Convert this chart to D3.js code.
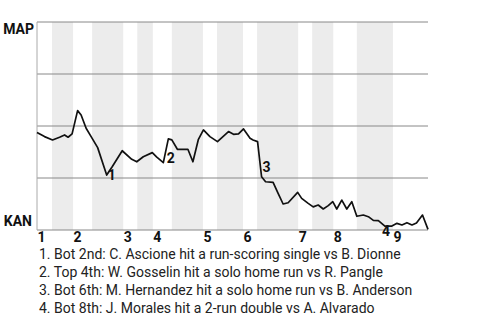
<!DOCTYPE html>
<html>
<head>
<meta charset="utf-8">
<script src="https://cdn.jsdelivr.net/npm/d3@7"></script>
<style>
  body { margin: 0; background: #fff; }
  text { font-family: Roboto, "Liberation Sans", sans-serif; }
</style>
</head>
<body>
<svg id="chart" width="480" height="320"></svg>
<script>
// game progress (plate appearances) and MAP win probability (%)
var progress = [0, 1.5, 3.1, 4.5, 5.5, 6.2, 7.0, 8.1, 8.8, 9.8, 10.8, 12.1, 13.9, 15.0, 17.0, 18.9, 19.9, 21.2, 23.0, 23.9,
                25.2, 26.2, 26.9, 28.0, 30.1, 31.1, 32.2, 33.2, 34.5, 36.0, 38.2, 39.2, 40.2, 41.2, 42.5, 43.1, 44.0, 44.8, 45.6, 47.1,
                48.1, 49.1, 50.1, 52.0, 52.8, 54.1, 55.1, 56.1, 57.1, 58.1, 59.0, 59.8, 60.8, 61.8, 62.8, 63.8, 65.1, 66.1, 67.1, 68.1,
                69.4, 70.8, 71.8, 72.8, 73.8, 74.8, 75.7, 76.9, 78.0];
var winProb = [46.9, 44.9, 43.3, 44.6, 45.7, 44.6, 46.2, 57.4, 55.3, 48.9, 44.9, 39.6, 26.4, 30.4, 38.1, 34.0, 32.8, 35.2, 37.2, 35.0,
               32.4, 43.8, 43.3, 38.8, 38.8, 32.8, 43.6, 48.1, 44.9, 42.5, 47.3, 46.0, 46.2, 48.6, 44.1, 43.3, 42.5, 25.6, 23.2, 22.9,
               17.6, 12.5, 13.1, 18.1, 15.2, 12.8, 11.1, 12.0, 10.1, 11.7, 13.6, 10.1, 14.4, 10.1, 13.6, 6.6, 7.2, 6.4, 4.6, 4.5,
               1.9, 1.9, 3.2, 2.4, 3.5, 2.4, 3.4, 7.2, 0.3];

// start of each half inning (top 1, bot 1, top 2, ...), last value = end of game
var halfStarts = [0, 3, 7.2, 11, 17.2, 20, 23.1, 26.9, 33.1, 35.9, 41.1, 43.9, 52.1, 54.9, 59.1, 63.8, 71, 78];
var innings = ["1", "2", "3", "4", "5", "6", "7", "8", "9"];

var teams = ["MAP", "KAN"];
var gridTicks = [0, 25, 50, 75, 100];

var eventPoint = [12, 20, 37, 60];
var eventLabel = ["1", "2", "3", "4"];
var eventText = [
  "1. Bot 2nd: C. Ascione hit a run-scoring single vs B. Dionne",
  "2. Top 4th: W. Gosselin hit a solo home run vs R. Pangle",
  "3. Bot 6th: M. Hernandez hit a solo home run vs B. Anderson",
  "4. Bot 8th: J. Morales hit a 2-run double vs A. Alvarado"
];
var labelNudge = [[1, 5], [3.5, 0.5], [1, -4.5], [-3, 10]];

var svg = d3.select("#chart");

var x = d3.scaleLinear()
    .domain([0, 78])
    .range([37, 428]);

var y = d3.scaleLinear()
    .domain([0, 100])
    .range([230, 22]);

// bottom-half bands
var bands = [];
for (var i = 1; i < halfStarts.length - 1; i += 2) {
    bands.push([halfStarts[i], halfStarts[i + 1]]);
}
svg.append("g")
    .selectAll("rect")
    .data(bands)
    .enter()
    .append("rect")
        .attr("x", function(d){ return x(d[0]); })
        .attr("y", y(100))
        .attr("width", function(d){ return x(d[1]) - x(d[0]); })
        .attr("height", y(0) - y(100))
        .style("fill", "#ececec");

// gridlines
svg.append("g")
    .selectAll("line")
    .data(gridTicks)
    .enter()
    .append("line")
        .attr("x1", x(0))
        .attr("x2", x(78))
        .attr("y1", function(d){ return y(d); })
        .attr("y2", function(d){ return y(d); })
        .style("stroke", "#888")
        .style("stroke-width", 1);

svg.append("line")
    .attr("x1", x(0)).attr("x2", x(0))
    .attr("y1", y(100)).attr("y2", y(0))
    .style("stroke", "#aaa")
    .style("stroke-width", 1);

// team labels
svg.append("text")
    .text(teams[0])
    .attr("x", x(0) - 3)
    .attr("y", y(100) + 11.5)
    .attr("text-anchor", "end")
    .style("font-size", "14px")
    .style("font-weight", "bold")
    .style("fill", "#111");

svg.append("text")
    .text(teams[1])
    .attr("x", x(0) - 5)
    .attr("y", y(0) - 4)
    .attr("text-anchor", "end")
    .style("font-size", "14px")
    .style("font-weight", "bold")
    .style("fill", "#111");

// inning labels
svg.append("g")
    .selectAll("text")
    .data(innings)
    .enter()
    .append("text")
        .text(function(d){ return d; })
        .attr("x", function(d, i){ return x(halfStarts[i * 2]) + 0.5; })
        .attr("y", 242)
        .style("font-size", "14px")
        .style("font-weight", "bold")
        .style("fill", "#111");

// win probability line
var line = d3.line()
    .x(function(d, i){ return x(progress[i]); })
    .y(function(d){ return y(d); });

svg.append("path")
    .datum(winProb)
    .attr("d", line)
    .style("fill", "none")
    .style("stroke", "#111")
    .style("stroke-width", 1.7)
    .style("stroke-linejoin", "round");

// event markers
svg.append("g")
    .selectAll("text")
    .data(eventPoint)
    .enter()
    .append("text")
        .text(function(d, i){ return eventLabel[i]; })
        .attr("x", function(d, i){ return x(progress[d]) + labelNudge[i][0]; })
        .attr("y", function(d, i){ return y(winProb[d]) + labelNudge[i][1]; })
        .style("font-size", "14px")
        .style("font-weight", "bold")
        .style("fill", "#111");

// event list
svg.append("g")
    .selectAll("text")
    .data(eventText)
    .enter()
    .append("text")
        .text(function(d){ return d; })
        .attr("x", 39)
        .attr("y", function(d, i){ return 259 + i * 18; })
        .style("font-size", "14px")
        .style("fill", "#222");
</script>
</body>
</html>
